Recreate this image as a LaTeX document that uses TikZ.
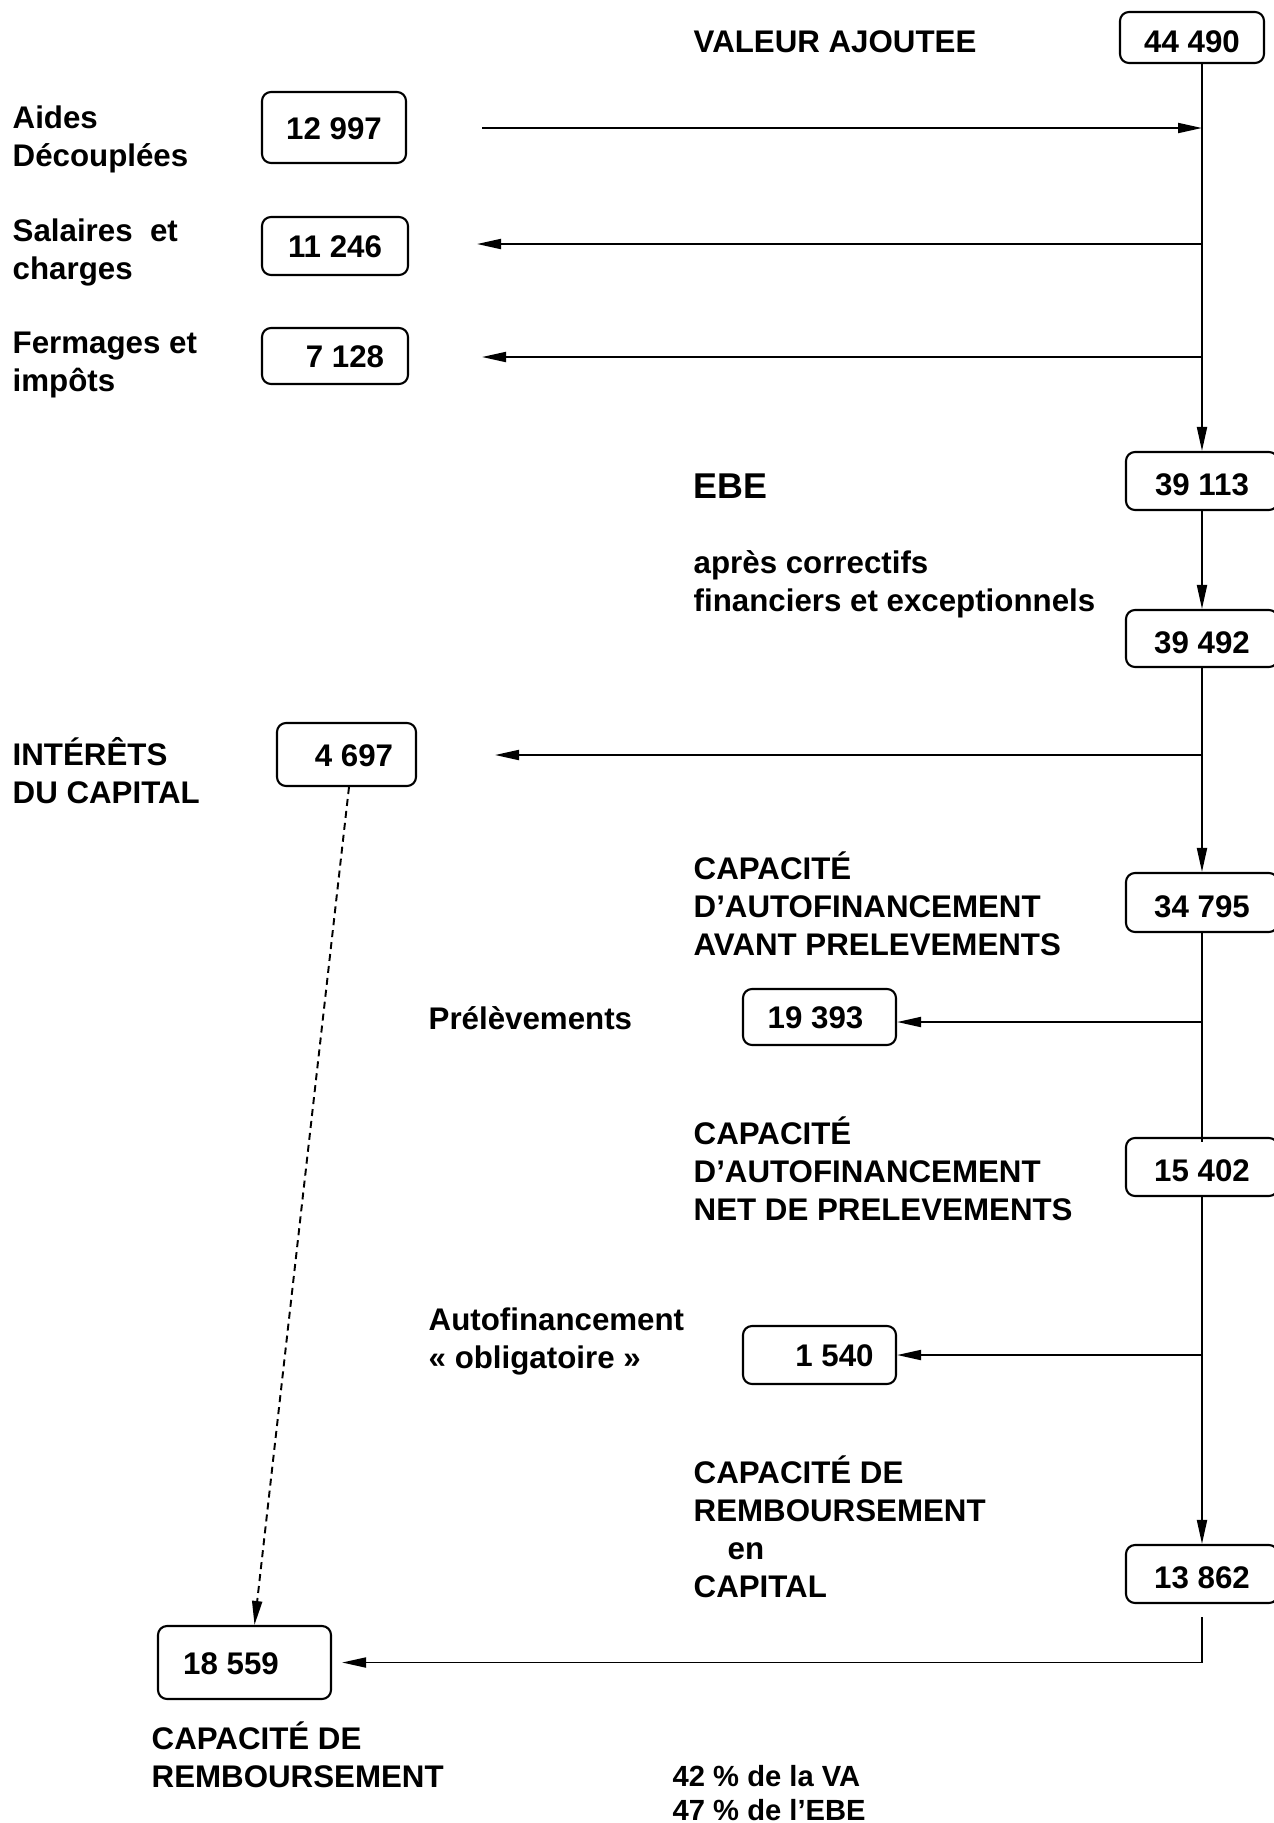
\documentclass[tikz,border=0pt]{standalone}
\usepackage{fontspec}
\setmainfont{Liberation Sans}
\usetikzlibrary{arrows.meta}

\begin{document}
\begin{tikzpicture}[
    box/.style={draw, rounded corners=0.9mm, line width=0.6pt,
                minimum width=1.46cm, minimum height=0.58cm, inner sep=0pt,
                text height=2.3mm, text depth=0pt,
                font=\fontsize{8.9}{10.8}\selectfont\bfseries},
    col/.style={box, minimum width=1.52cm, text height=2.9mm},
    lbl/.style={anchor=west, align=left, inner sep=0pt,
                font=\fontsize{8.9}{10.8}\selectfont\bfseries},
    arr/.style={-{Triangle[length=2.4mm, width=1mm]}, line width=0.55pt}
  ]
  \useasboundingbox (0,0) rectangle (12.74,-18.23);

  %--- main column (right) ---
  \node[lbl] (valab) at (6.93,-0.42) {VALEUR AJOUTEE};
  \node[box, minimum width=1.44cm, minimum height=0.51cm, text height=2.9mm] (va) at (11.92,-0.375) {44 490};

  \node[lbl, font=\fontsize{10.2}{12}\selectfont\bfseries] (ebelab) at (6.93,-4.86) {EBE};
  \node[col] (ebe) at (12.02,-4.81) {39 113};

  \node[lbl] (corrlab) at (6.93,-5.845) {après correctifs\\financiers et exceptionnels};
  \node[col, minimum height=0.57cm] (ebec) at (12.02,-6.385) {39 492};

  \node[lbl] (cafalab) at (6.93,-9.04) {CAPACITÉ\\D’AUTOFINANCEMENT\\AVANT PRELEVEMENTS};
  \node[col, minimum height=0.59cm] (cafa) at (12.02,-9.025) {34 795};

  \node[lbl] (cafnlab) at (6.93,-11.69) {CAPACITÉ\\D’AUTOFINANCEMENT\\NET DE PRELEVEMENTS};
  \node[col] (cafn) at (12.02,-11.67) {15 402};

  \node[lbl] (crclab) at (6.93,-15.27) {CAPACITÉ DE\\REMBOURSEMENT\\\hspace*{3.4mm}en\\CAPITAL};
  \node[col] (crc) at (12.02,-15.74) {13 862};

  %--- deductions and aids (left) ---
  \node[lbl] (aideslab) at (0.12,-1.39) {Aides\\Découplées};
  \node[box, minimum width=1.44cm, minimum height=0.71cm] (aides) at (3.34,-1.275) {12 997};

  \node[lbl] (sallab) at (0.12,-2.525) {Salaires\ \ et\\charges};
  \node[box, minimum height=0.58cm] (sal) at (3.35,-2.46) {11 246};

  \node[lbl] (fermlab) at (0.12,-3.645) {Fermages et\\impôts};
  \node[box, minimum height=0.56cm] (ferm) at (3.35,-3.56) {\hspace*{2mm}7 128};

  \node[lbl] (intlab) at (0.12,-7.71) {INTÉRÊTS\\DU CAPITAL};
  \node[box, minimum width=1.39cm, minimum height=0.63cm] (int) at (3.465,-7.545) {\hspace*{1.5mm}4 697};

  \node[lbl] (prellab) at (4.28,-10.18) {Prélèvements};
  \node[box, minimum width=1.53cm, minimum height=0.56cm] (prel) at (8.195,-10.17) {19 393\hspace*{0.8mm}};

  \node[lbl] (autolab) at (4.28,-13.41) {Autofinancement\\« obligatoire »};
  \node[box, minimum width=1.53cm, minimum height=0.58cm] (auto) at (8.195,-13.55) {\hspace*{3mm}1 540};

  %--- result (bottom left) ---
  \node[box, minimum width=1.73cm, minimum height=0.73cm] (cr) at (2.445,-16.625) {18 559\hspace*{2.7mm}};
  \node[lbl] (crlab) at (1.51,-17.55) {CAPACITÉ DE\\REMBOURSEMENT};

  \node[lbl, font=\fontsize{8.3}{9.7}\selectfont\bfseries] (ratio) at (6.72,-17.93)
        {42 \% de la VA\\47 \% de l’EBE};

  %--- free ends of the side arrows ---
  \coordinate (aidesin) at (4.82,-1.28);
  \coordinate (saltip) at (4.77,-2.44);
  \coordinate (fermtip) at (4.82,-3.57);
  \coordinate (inttip) at (4.95,-7.55);
  \coordinate (crctop) at (12.02,-16.17);

  %--- trunk ---
  \draw[arr] (va.south -| ebe.north) -- (ebe.north);
  \draw[arr] (ebe) -- (ebec);
  \draw[arr] (ebec) -- (cafa);
  \draw[line width=0.55pt] (cafa.south) -- ([yshift=-0.5mm]cafn.north);
  \draw[arr] (cafn) -- (crc);

  \draw[arr] (aidesin) -- (aidesin -| ebe.north);
  \draw[arr] (saltip -| ebe.north) -- (saltip);
  \draw[arr] (fermtip -| ebe.north) -- (fermtip);
  \draw[arr] (inttip -| ebec.south) -- (inttip);
  \draw[arr] ([yshift=-0.5mm]prel.east -| cafa.south) -- ([yshift=-0.5mm]prel.east);
  \draw[arr] (auto.east -| cafn.south) -- (auto.east);
  \draw[arr] (crctop) |- ([xshift=1mm]cr.east);

  % interest added back
  \draw[arr, dash pattern=on 0.7mm off 0.5mm]
        ([xshift=0.25mm]int.south) -- ([xshift=1mm]cr.north);
\end{tikzpicture}
\end{document}
